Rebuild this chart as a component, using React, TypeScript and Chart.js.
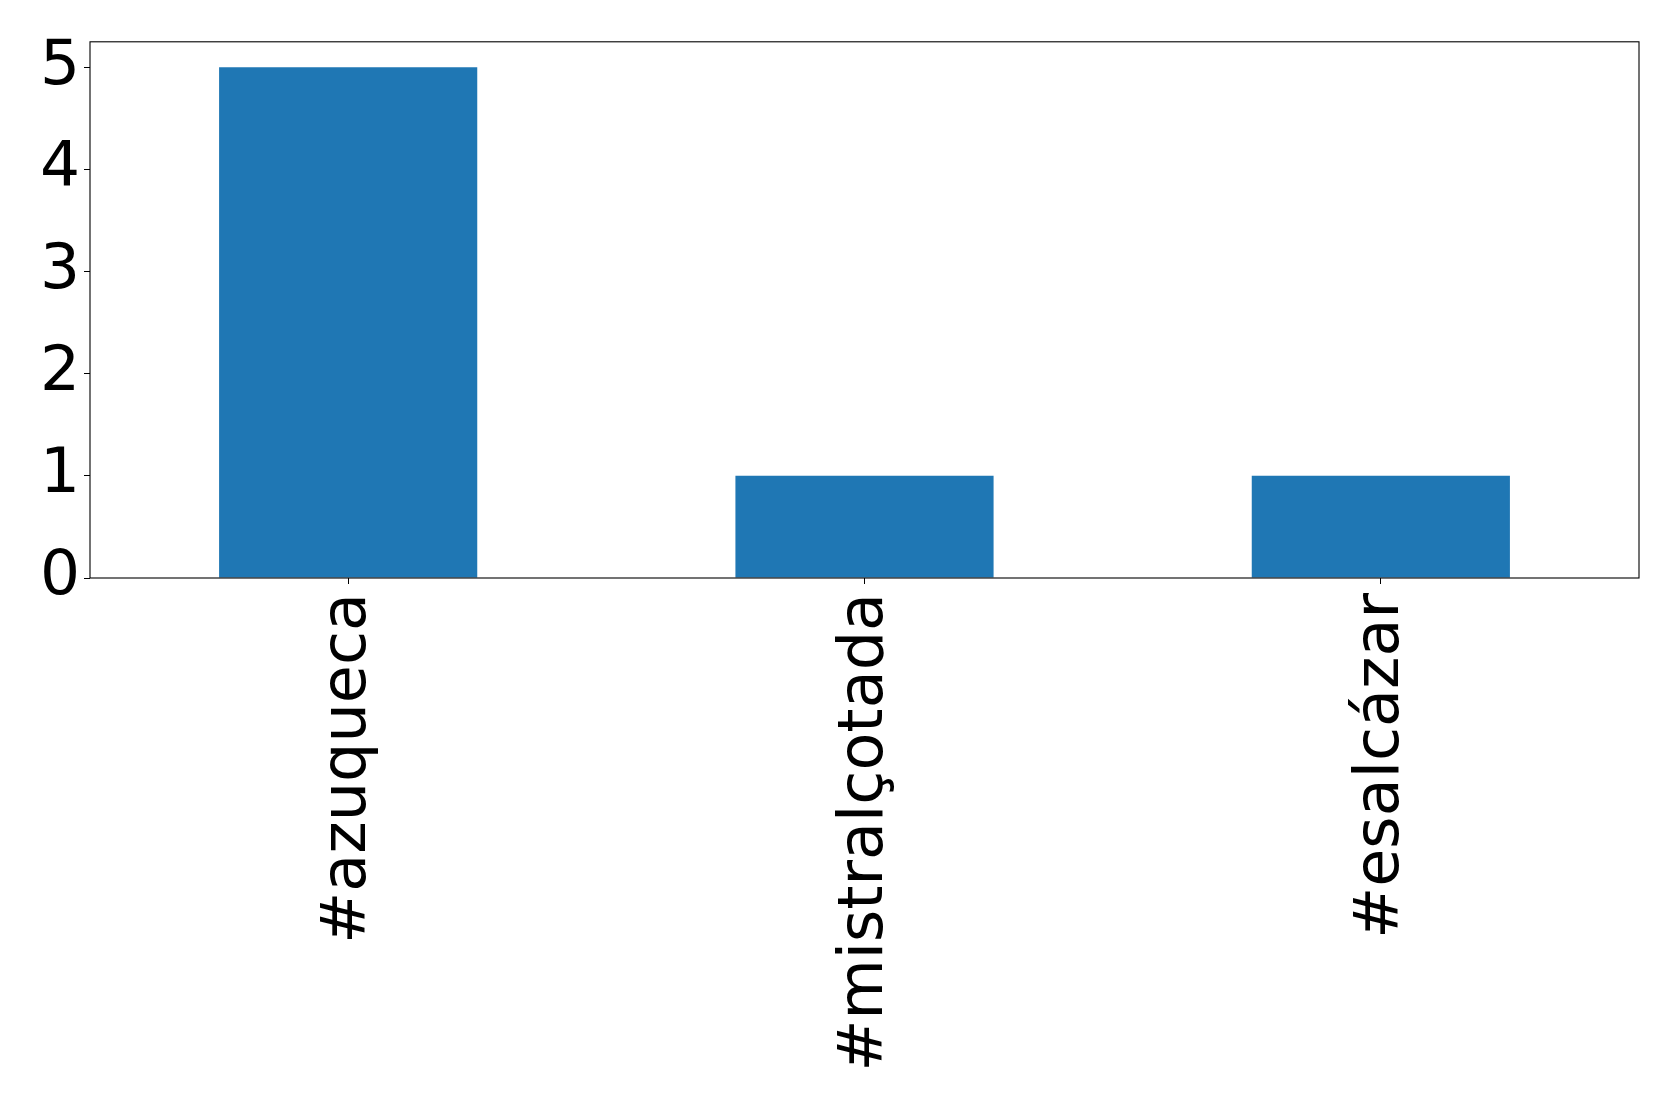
import React, { useEffect, useRef } from "react";
import { Chart, registerables } from "chart.js";

Chart.register(...registerables);

const categories = ["#azuqueca", "#mistralçotada", "#esalcázar"];
const counts = [5, 1, 1];
const yTicks = [0, 1, 2, 3, 4, 5];

const FONT = "'DejaVu Sans', 'Liberation Sans', sans-serif";

const framePlugin = {
  id: "frame",
  afterDatasetsDraw(chart: any) {
    const { ctx, chartArea } = chart;
    ctx.save();
    ctx.strokeStyle = "#000";
    ctx.lineWidth = 1.1;
    ctx.strokeRect(chartArea.left, chartArea.top, chartArea.right - chartArea.left, chartArea.bottom - chartArea.top);
    ctx.restore();
  },
};

export default function App() {
  const ref = useRef<HTMLCanvasElement>(null);
  useEffect(() => {
    if (!ref.current) return;
    const chart = new Chart(ref.current, {
      type: "bar",
      data: {
        labels: categories,
        datasets: [
          {
            data: counts,
            backgroundColor: "#1f77b4",
            borderWidth: 0,
            categoryPercentage: 0.5,
            barPercentage: 1,
          },
        ],
      },
      options: {
        responsive: false,
        animation: false,
        events: [],
        layout: { padding: { top: 39, right: 40, left: 0, bottom: 0 } },
        plugins: { legend: { display: false }, tooltip: { enabled: false } },
        scales: {
          x: {
            offset: true,
            grid: { display: true, drawOnChartArea: false, offset: false, tickLength: 6, color: "#000", lineWidth: 1 },
            border: { display: false },
            ticks: {
              color: "#000",
              font: { family: FONT, size: 62 },
              minRotation: 90,
              maxRotation: 90,
              padding: 9,
              autoSkip: false,
              labelOffset: 1,
            },
            afterFit: (s: any) => {
              s.height = 532;
            },
          },
          y: {
            min: 0,
            max: 5.25,
            grid: { display: true, drawOnChartArea: false, tickLength: 6, color: "#000", lineWidth: 1 },
            border: { display: false },
            ticks: {
              color: "#000",
              font: { family: FONT, size: 63 },
              padding: 4,
              stepSize: 1,
            },
            afterBuildTicks: (s: any) => {
              s.ticks = yTicks.map((v) => ({ value: v }));
            },
            afterFit: (s: any) => {
              s.width = 90;
            },
          },
        },
      },
      plugins: [framePlugin],
    });
    return () => chart.destroy();
  }, []);
  return (
    <div style={{ position: "absolute", left: 0, top: 0, width: 1679, height: 1110, background: "#fff" }}>
      <canvas ref={ref} width={1679} height={1110} style={{ display: "block" }} />
    </div>
  );
}
